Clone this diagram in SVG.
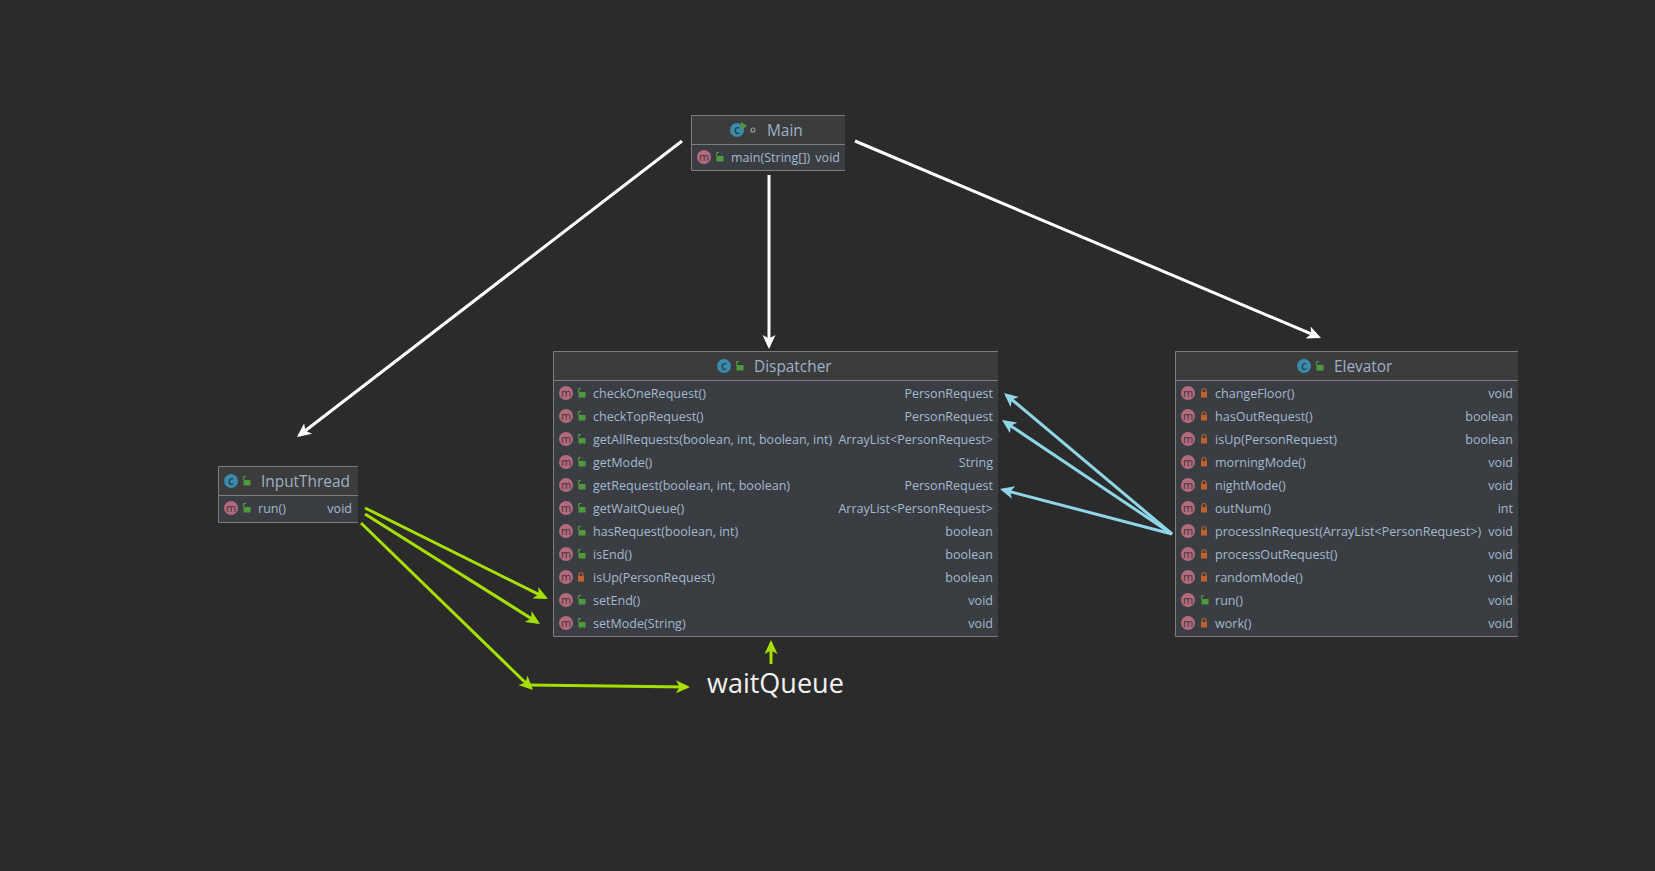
<svg xmlns="http://www.w3.org/2000/svg" width="1655" height="871" viewBox="0 0 1655 871">
<style>
text{font-family:"Open Sans","Noto Sans","Liberation Sans",sans-serif}
.hd{fill:#3c3c3c}.bd{fill:#3a3e42}
.ln{stroke:#7d7d7d;stroke-width:1;fill:none}
.t{font-size:12.55px;fill:#a4b8cf}
.r{font-size:12.55px;fill:#a4b8cf;text-anchor:end}
.title{font-size:15.4px;fill:#9db1c9}
.m{font-size:11px;fill:#3d3336;text-anchor:middle}
.c{font-size:12px;fill:#24404e;text-anchor:middle;font-weight:600}
.w{stroke:#fff}.g{stroke:#a6e000}.b{stroke:#8fd6e8}
.cn line{stroke-width:3;fill:none}
</style>
<defs>
<marker id="aw" markerUnits="userSpaceOnUse" markerWidth="18" markerHeight="16" refX="11" refY="8" orient="auto"><path d="M0,1.5 L14,8 L0,14.5 L3.5,8z" fill="#fff"/></marker>
<marker id="ag" markerUnits="userSpaceOnUse" markerWidth="18" markerHeight="16" refX="11" refY="8" orient="auto"><path d="M0,1.5 L14,8 L0,14.5 L3.5,8z" fill="#a6e000"/></marker>
<marker id="ab" markerUnits="userSpaceOnUse" markerWidth="18" markerHeight="16" refX="11" refY="8" orient="auto"><path d="M0,1.5 L14,8 L0,14.5 L3.5,8z" fill="#8fd6e8"/></marker>
<circle id="mi" r="7" fill="#b26a7c"/>
<circle id="ci" r="7" fill="#3a8bab"/>
<g id="pub"><rect x="-2.5" y="-1" width="7" height="5.5" fill="#4f9a3c"/><path d="M-2.5,-1 V-3 A2,2 0 0 0 -2,-4.5 H0" fill="none" stroke="#4f9a3c" stroke-width="1.2"/></g>
<g id="pri"><rect x="-3" y="-1" width="6" height="5.5" fill="#c0602c"/><path d="M-2,-1 V-2.5 A2,2 0 0 1 2,-2.5 V-1" fill="none" stroke="#c0602c" stroke-width="1.2"/></g>
</defs>
<rect width="1655" height="871" fill="#2b2b2b"/>

<g id="connectors" class="cn">
<line class="w" x1="682" y1="141" x2="299.4" y2="435.2" marker-end="url(#aw)"/>
<line class="w" x1="769" y1="175" x2="769" y2="346" marker-end="url(#aw)"/>
<line class="w" x1="855" y1="141" x2="1318.2" y2="336.8" marker-end="url(#aw)"/>
<line class="g" x1="365" y1="508" x2="545.3" y2="597.7" marker-end="url(#ag)"/>
<line class="g" x1="365" y1="514" x2="537.5" y2="622.4" marker-end="url(#ag)"/>
<line class="g" x1="361" y1="523" x2="530.8" y2="687.9" marker-end="url(#ag)"/>
<line class="g" x1="529" y1="685" x2="687" y2="687" marker-end="url(#ag)"/>
<line class="g" x1="771" y1="664" x2="771" y2="643" marker-end="url(#ag)"/>
<line class="b" x1="1172" y1="534" x2="1006.3" y2="394.9" marker-end="url(#ab)"/>
<line class="b" x1="1172" y1="534" x2="1004.5" y2="421.7" marker-end="url(#ab)"/>
<line class="b" x1="1172" y1="534" x2="1002.9" y2="489.8" marker-end="url(#ab)"/>
</g>

<g id="main">
<rect class="hd" x="691" y="115" width="154" height="29"/><rect class="bd" x="691" y="144" width="154" height="26"/>
<path class="ln" d="M845,115.5H691.5V170.5H845M691.5,144.5H845"/>
<use href="#ci" x="737" y="130"/><text class="c" x="737" y="134">c</text>
<path d="M741,122l6,4l-6,4z" fill="#4f9a3c"/>
<circle cx="753" cy="130" r="2" fill="none" stroke="#9a9a9a" stroke-width="1.2"/>
<text class="title" x="767" y="136">Main</text>
<use href="#mi" x="704" y="157"/><text class="m" x="704" y="160.500">m</text>
<use href="#pub" x="719" y="157"/>
<text class="t" x="731" y="162">main(String[])</text><text class="r" x="840" y="162">void</text>
</g>

<g id="inputthread">
<rect class="hd" x="218" y="466" width="140" height="29"/><rect class="bd" x="218" y="495" width="140" height="27"/>
<path class="ln" d="M358,466.5H218.5V522.5H358M218.5,495.5H358"/>
<use href="#ci" x="231" y="481"/><text class="c" x="231" y="485">c</text>
<use href="#pub" x="246" y="481"/>
<text class="title" x="261" y="487">InputThread</text>
<use href="#mi" x="231" y="508"/><text class="m" x="231" y="511.500">m</text>
<use href="#pub" x="246" y="508"/>
<text class="t" x="258" y="513">run()</text><text class="r" x="352" y="513">void</text>
</g>

<g id="dispatcher">
<rect class="hd" x="553" y="351" width="445" height="29"/><rect class="bd" x="553" y="380" width="445" height="256"/>
<path class="ln" d="M998,351.5H553.5V636.5H998M553.5,380.5H998"/>
<use href="#ci" x="724" y="366"/><text class="c" x="724" y="370">c</text>
<use href="#pub" x="739" y="366"/>
<text class="title" x="754" y="372">Dispatcher</text>
<g><use href="#mi" x="566" y="393"/><text class="m" x="566" y="396.500">m</text><use href="#pub" x="581" y="393"/><text class="t" x="593" y="398">checkOneRequest()</text><text class="r" x="993" y="398">PersonRequest</text></g>
<g><use href="#mi" x="566" y="416"/><text class="m" x="566" y="419.500">m</text><use href="#pub" x="581" y="416"/><text class="t" x="593" y="421">checkTopRequest()</text><text class="r" x="993" y="421">PersonRequest</text></g>
<g><use href="#mi" x="566" y="439"/><text class="m" x="566" y="442.500">m</text><use href="#pub" x="581" y="439"/><text class="t" x="593" y="444">getAllRequests(boolean, int, boolean, int)</text><text class="r" x="993" y="444">ArrayList&lt;PersonRequest&gt;</text></g>
<g><use href="#mi" x="566" y="462"/><text class="m" x="566" y="465.500">m</text><use href="#pub" x="581" y="462"/><text class="t" x="593" y="467">getMode()</text><text class="r" x="993" y="467">String</text></g>
<g><use href="#mi" x="566" y="485"/><text class="m" x="566" y="488.500">m</text><use href="#pub" x="581" y="485"/><text class="t" x="593" y="490">getRequest(boolean, int, boolean)</text><text class="r" x="993" y="490">PersonRequest</text></g>
<g><use href="#mi" x="566" y="508"/><text class="m" x="566" y="511.500">m</text><use href="#pub" x="581" y="508"/><text class="t" x="593" y="513">getWaitQueue()</text><text class="r" x="993" y="513">ArrayList&lt;PersonRequest&gt;</text></g>
<g><use href="#mi" x="566" y="531"/><text class="m" x="566" y="534.500">m</text><use href="#pub" x="581" y="531"/><text class="t" x="593" y="536">hasRequest(boolean, int)</text><text class="r" x="993" y="536">boolean</text></g>
<g><use href="#mi" x="566" y="554"/><text class="m" x="566" y="557.500">m</text><use href="#pub" x="581" y="554"/><text class="t" x="593" y="559">isEnd()</text><text class="r" x="993" y="559">boolean</text></g>
<g><use href="#mi" x="566" y="577"/><text class="m" x="566" y="580.500">m</text><use href="#pri" x="581" y="577"/><text class="t" x="593" y="582">isUp(PersonRequest)</text><text class="r" x="993" y="582">boolean</text></g>
<g><use href="#mi" x="566" y="600"/><text class="m" x="566" y="603.500">m</text><use href="#pub" x="581" y="600"/><text class="t" x="593" y="605">setEnd()</text><text class="r" x="993" y="605">void</text></g>
<g><use href="#mi" x="566" y="623"/><text class="m" x="566" y="626.500">m</text><use href="#pub" x="581" y="623"/><text class="t" x="593" y="628">setMode(String)</text><text class="r" x="993" y="628">void</text></g>
</g>

<g id="elevator">
<rect class="hd" x="1175" y="351" width="343" height="29"/><rect class="bd" x="1175" y="380" width="343" height="256"/>
<path class="ln" d="M1518,351.5H1175.5V636.5H1518M1175.5,380.5H1518"/>
<use href="#ci" x="1304" y="366"/><text class="c" x="1304" y="370">c</text>
<use href="#pub" x="1319" y="366"/>
<text class="title" x="1334" y="372">Elevator</text>
<g><use href="#mi" x="1188" y="393"/><text class="m" x="1188" y="396.500">m</text><use href="#pri" x="1204" y="393"/><text class="t" x="1215" y="398">changeFloor()</text><text class="r" x="1513" y="398">void</text></g>
<g><use href="#mi" x="1188" y="416"/><text class="m" x="1188" y="419.500">m</text><use href="#pri" x="1204" y="416"/><text class="t" x="1215" y="421">hasOutRequest()</text><text class="r" x="1513" y="421">boolean</text></g>
<g><use href="#mi" x="1188" y="439"/><text class="m" x="1188" y="442.500">m</text><use href="#pri" x="1204" y="439"/><text class="t" x="1215" y="444">isUp(PersonRequest)</text><text class="r" x="1513" y="444">boolean</text></g>
<g><use href="#mi" x="1188" y="462"/><text class="m" x="1188" y="465.500">m</text><use href="#pri" x="1204" y="462"/><text class="t" x="1215" y="467">morningMode()</text><text class="r" x="1513" y="467">void</text></g>
<g><use href="#mi" x="1188" y="485"/><text class="m" x="1188" y="488.500">m</text><use href="#pri" x="1204" y="485"/><text class="t" x="1215" y="490">nightMode()</text><text class="r" x="1513" y="490">void</text></g>
<g><use href="#mi" x="1188" y="508"/><text class="m" x="1188" y="511.500">m</text><use href="#pri" x="1204" y="508"/><text class="t" x="1215" y="513">outNum()</text><text class="r" x="1513" y="513">int</text></g>
<g><use href="#mi" x="1188" y="531"/><text class="m" x="1188" y="534.500">m</text><use href="#pri" x="1204" y="531"/><text class="t" x="1215" y="536">processInRequest(ArrayList&lt;PersonRequest&gt;)</text><text class="r" x="1513" y="536">void</text></g>
<g><use href="#mi" x="1188" y="554"/><text class="m" x="1188" y="557.500">m</text><use href="#pri" x="1204" y="554"/><text class="t" x="1215" y="559">processOutRequest()</text><text class="r" x="1513" y="559">void</text></g>
<g><use href="#mi" x="1188" y="577"/><text class="m" x="1188" y="580.500">m</text><use href="#pri" x="1204" y="577"/><text class="t" x="1215" y="582">randomMode()</text><text class="r" x="1513" y="582">void</text></g>
<g><use href="#mi" x="1188" y="600"/><text class="m" x="1188" y="603.500">m</text><use href="#pub" x="1204" y="600"/><text class="t" x="1215" y="605">run()</text><text class="r" x="1513" y="605">void</text></g>
<g><use href="#mi" x="1188" y="623"/><text class="m" x="1188" y="626.500">m</text><use href="#pri" x="1204" y="623"/><text class="t" x="1215" y="628">work()</text><text class="r" x="1513" y="628">void</text></g>
</g>

<g id="waitqueue"><text x="707" y="693" font-size="27" fill="#f2f2f2">waitQueue</text></g>
</svg>
